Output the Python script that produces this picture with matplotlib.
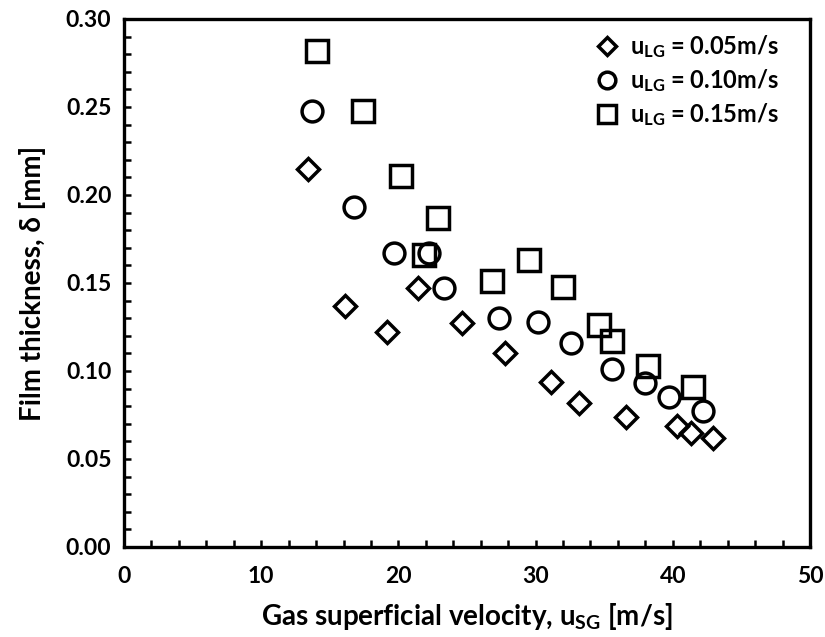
import matplotlib
matplotlib.use("Agg")
import matplotlib.pyplot as plt
from matplotlib.ticker import MultipleLocator

plt.rcParams['font.family'] = ['Lato', 'DejaVu Sans']
plt.rcParams['mathtext.fontset'] = 'custom'
plt.rcParams['mathtext.rm'] = 'Lato:bold'
plt.rcParams['mathtext.bf'] = 'Lato:bold'
plt.rcParams['mathtext.it'] = 'Lato:bold'

# u_LG = 0.05 m/s (diamonds)
x_005 = [13.4, 16.1, 19.2, 21.4, 24.6, 27.8, 31.1, 33.2, 36.6, 40.3, 41.3, 42.9]
y_005 = [0.215, 0.137, 0.122, 0.147, 0.127, 0.110, 0.094, 0.082, 0.074, 0.069, 0.065, 0.062]

# u_LG = 0.10 m/s (circles)
x_010 = [13.7, 16.8, 19.7, 22.2, 23.3, 27.3, 30.2, 32.6, 35.6, 38.0, 39.7, 42.2]
y_010 = [0.248, 0.193, 0.167, 0.167, 0.147, 0.130, 0.128, 0.116, 0.101, 0.093, 0.085, 0.077]

# u_LG = 0.15 m/s (squares)
x_015 = [14.1, 17.4, 20.2, 22.9, 21.9, 26.8, 29.5, 32.0, 34.6, 35.6, 38.2, 41.5]
y_015 = [0.282, 0.248, 0.211, 0.187, 0.166, 0.151, 0.163, 0.148, 0.126, 0.117, 0.103, 0.091]

labels = [r'$\mathbf{u_{LG}}$ = 0.05m/s',
          r'$\mathbf{u_{LG}}$ = 0.10m/s',
          r'$\mathbf{u_{LG}}$ = 0.15m/s']

fig = plt.figure(figsize=(8.25, 6.37), dpi=100)
ax = fig.add_axes([0.1503, 0.1413, 0.8315, 0.8289])

mew = 2.5
ax.plot(x_005, y_005, linestyle='none', marker='D', markersize=11,
        markerfacecolor='none', markeredgecolor='black', markeredgewidth=mew, label=labels[0])
ax.plot(x_010, y_010, linestyle='none', marker='o', markersize=15,
        markerfacecolor='none', markeredgecolor='black', markeredgewidth=mew, label=labels[1])
ax.plot(x_015, y_015, linestyle='none', marker='s', markersize=15.5,
        markerfacecolor='none', markeredgecolor='black', markeredgewidth=mew, label=labels[2])

ax.set_xlim(0, 50)
ax.set_ylim(0, 0.30)
ax.xaxis.set_major_locator(MultipleLocator(10))
ax.xaxis.set_minor_locator(MultipleLocator(2))
ax.yaxis.set_major_locator(MultipleLocator(0.05))
ax.yaxis.set_minor_locator(MultipleLocator(0.01))
ax.yaxis.set_major_formatter(plt.FuncFormatter(lambda v, p: f"{v:.2f}"))

for s in ax.spines.values():
    s.set_linewidth(2.4)
ax.tick_params(which='both', direction='in', top=False, right=False, width=1.8)
ax.tick_params(which='major', length=5, labelsize=16.5)
ax.tick_params(axis='x', which='major', pad=14)
ax.tick_params(axis='y', which='major', pad=9)
ax.tick_params(which='minor', length=5)
for lab in ax.get_xticklabels() + ax.get_yticklabels():
    lab.set_fontweight('bold')

ax.set_xlabel(r'Gas superficial velocity, $\mathbf{u_{SG}}$ [m/s]', fontsize=20, fontweight='bold', labelpad=10)
ax.set_ylabel('Film thickness, δ [mm]', fontsize=20, fontweight='bold', labelpad=14)

leg = ax.legend(loc='upper right', frameon=False, fontsize=17, handletextpad=0.35,
                labelspacing=0.3, borderaxespad=0.2, markerscale=0.8,
                handlelength=1.2, bbox_to_anchor=(0.975, 1.0))
for t in leg.get_texts():
    t.set_fontweight('bold')

fig.savefig('out.png', dpi=100)
